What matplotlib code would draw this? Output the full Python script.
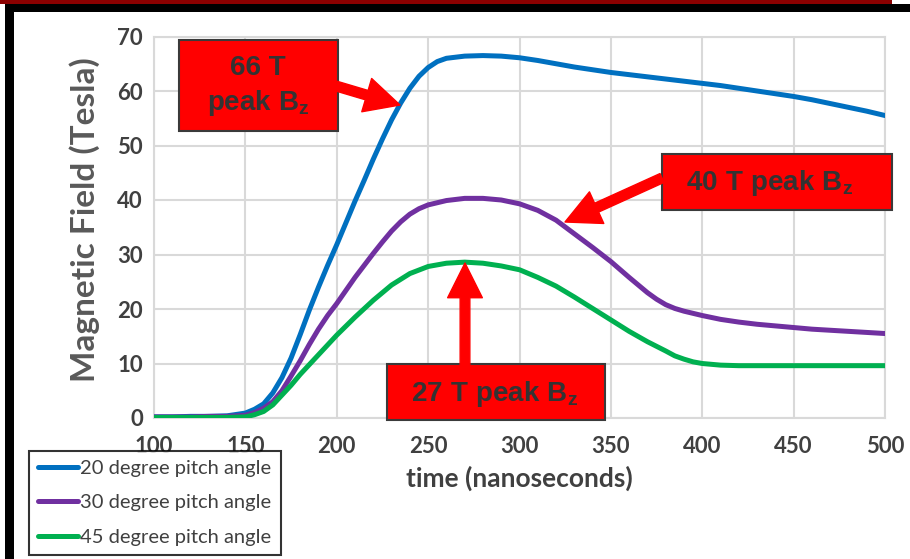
import matplotlib
matplotlib.use("Agg")
import matplotlib.pyplot as plt
from matplotlib.patches import Rectangle, FancyArrowPatch

plt.rcParams['mathtext.fontset'] = 'custom'
plt.rcParams['mathtext.rm'] = 'Liberation Sans:bold'
plt.rcParams['mathtext.it'] = 'Liberation Sans:bold'

# tempi (ns) e campo magnetico (T)
t_20 = [100, 110, 120, 130, 140, 150, 155, 160, 165, 170, 175, 180, 185, 190, 195,
        200, 205, 210, 215, 220, 225, 230, 235, 240, 245, 250, 255, 260, 270, 280,
        290, 300, 310, 320, 330, 340, 350, 360, 370, 380, 390, 400, 410, 420, 430,
        440, 450, 460, 470, 480, 490, 500]
b_20 = [0.2, 0.2, 0.3, 0.3, 0.4, 0.9, 1.6, 2.6, 4.6, 7.4, 11.0, 15.3, 19.8, 24.0, 28.0,
        31.8, 35.8, 39.8, 43.6, 47.5, 51.2, 54.7, 57.8, 60.5, 62.7, 64.3, 65.4, 66.0, 66.4, 66.5,
        66.4, 66.1, 65.6, 65.0, 64.4, 63.9, 63.4, 63.0, 62.6, 62.2, 61.8, 61.4, 61.0, 60.5, 60.0,
        59.5, 59.0, 58.4, 57.7, 57.0, 56.3, 55.5]

t_30 = [100, 110, 120, 130, 140, 150, 155, 160, 165, 170, 175, 180, 185, 190, 195,
        200, 205, 210, 215, 220, 225, 230, 235, 240, 245, 250, 260, 270, 280, 290,
        300, 310, 320, 330, 340, 350, 360, 370, 375, 380, 385, 390, 400, 410, 420,
        430, 440, 450, 460, 470, 480, 490, 500]
b_30 = [0.2, 0.2, 0.2, 0.3, 0.3, 0.5, 1.0, 1.8, 3.0, 5.0, 7.7, 10.5, 13.5, 16.3, 18.8,
        21.0, 23.4, 25.8, 28.0, 30.2, 32.3, 34.3, 36.0, 37.4, 38.4, 39.1, 39.9, 40.3, 40.3, 40.0,
        39.3, 38.1, 36.3, 33.8, 31.3, 28.7, 25.8, 23.0, 21.8, 20.8, 20.1, 19.6, 18.8, 18.1, 17.6,
        17.2, 16.9, 16.6, 16.3, 16.1, 15.9, 15.7, 15.5]

t_45 = [100, 110, 120, 130, 140, 150, 155, 160, 165, 170, 175, 180, 185, 190, 195,
        200, 210, 220, 230, 240, 250, 260, 270, 280, 290, 300, 310, 320, 330, 340,
        350, 360, 370, 380, 385, 390, 395, 400, 410, 420, 440, 460, 480, 500]
b_45 = [0.1, 0.1, 0.1, 0.1, 0.1, 0.2, 0.6, 1.2, 2.4, 4.2, 6.0, 8.0, 9.8, 11.6, 13.4,
        15.2, 18.5, 21.6, 24.4, 26.5, 27.8, 28.4, 28.6, 28.4, 27.9, 27.2, 25.8, 24.2, 22.2, 20.1,
        18.0, 15.9, 14.0, 12.3, 11.4, 10.8, 10.3, 10.0, 9.7, 9.6, 9.6, 9.6, 9.6, 9.6]

serie = [
    ("20 degree pitch angle", t_20, b_20, "#0070C0"),
    ("30 degree pitch angle", t_30, b_30, "#7030A0"),
    ("45 degree pitch angle", t_45, b_45, "#00B050"),
]

fig = plt.figure(figsize=(9.1, 5.59), dpi=100)
ax = fig.add_axes([154 / 910, 1 - 418 / 559, 731 / 910, 381.5 / 559])

for nome, t, b, colore in serie:
    ax.plot(t, b, color=colore, linewidth=3.6, label=nome, solid_capstyle='round', zorder=3)

ax.set_xlim(100, 500)
ax.set_ylim(0, 70)
ax.set_xticks(range(100, 501, 50))
ax.set_yticks(range(0, 71, 10))
ax.grid(True, color="#d9d9d9", linewidth=1.5)
ax.set_axisbelow(True)
for s in ax.spines.values():
    s.set_color("#d9d9d9")
    s.set_linewidth(1.5)
ax.tick_params(length=0, labelsize=16, labelcolor="#404040")
ax.tick_params(axis='x', pad=13)
ax.tick_params(axis='y', pad=8)
for lab in ax.get_xticklabels() + ax.get_yticklabels():
    lab.set_fontfamily("Lato")
    lab.set_fontweight("bold")

ax.set_ylabel("Magnetic Field (Tesla)", fontsize=24, fontweight="bold", family="Lato",
              color="#595959")
ax.yaxis.set_label_coords(-0.074, 0.52)
ax.set_xlabel("time (nanoseconds)", fontsize=19, fontweight="bold", family="Lato",
              color="#404040")
ax.xaxis.set_label_coords(0.5, -0.125)


def pix(x, y):
    # pixel dell'immagine -> coordinate dati
    xd, yd = ax.transData.inverted().transform((x, 559 - y))
    return xd, yd


def riquadro(x0, y0, x1, y1):
    (a, b), (c, d) = pix(x0, y1), pix(x1, y0)
    r = Rectangle((a, b), c - a, d - b, facecolor="#ff0000", edgecolor="#3a3a3a",
                  linewidth=1.5, clip_on=False, zorder=5)
    ax.add_patch(r)


def freccia(x0, y0, x1, y1):
    p = FancyArrowPatch(pix(x0, y0), pix(x1, y1), mutation_scale=1,
                        arrowstyle="simple,head_length=25,head_width=25,tail_width=7",
                        color="#ff0000", shrinkA=0, shrinkB=0, clip_on=False, zorder=6)
    ax.add_patch(p)


testo = dict(fontsize=20, color="#333333", fontweight="bold", family="Liberation Sans",
             ha="center", va="center", zorder=7, clip_on=False)

riquadro(179, 40, 338, 131)
ax.text(*pix(258, 68), "66 T", **testo)
ax.text(*pix(258, 103), r"$\mathrm{peak\ B_z}$", **testo)
freccia(336, 86, 400, 105)

riquadro(662, 154, 892, 210)
ax.text(*pix(770, 183), r"$\mathrm{40\ T\ peak\ B_z}$", **testo)
freccia(662, 178, 565, 222)

riquadro(387, 364, 605, 420)
ax.text(*pix(495, 394), r"$\mathrm{27\ T\ peak\ B_z}$", **testo)
freccia(465, 366, 465, 263)

leg = fig.legend(loc="upper left", bbox_to_anchor=(29 / 910, 1 - 451 / 559),
                 prop={"family": "Lato", "size": 14.5}, frameon=True, fancybox=False,
                 handlelength=2.0, handletextpad=0.1, labelspacing=0.85,
                 borderpad=0.45, borderaxespad=0)
leg.get_frame().set_edgecolor("black")
leg.get_frame().set_linewidth(1.5)
for t in leg.get_texts():
    t.set_color("#404040")

# cornice della slide
fig.add_artist(Rectangle((0, 1 - 4 / 559), 892 / 910, 4 / 559, transform=fig.transFigure,
                         facecolor="#8b0000", edgecolor="none"))
fig.add_artist(Rectangle((5 / 910, 1 - 12 / 559), 905 / 910, 8 / 559, transform=fig.transFigure,
                         facecolor="black", edgecolor="none"))
fig.add_artist(Rectangle((5 / 910, 0), 9 / 910, 1 - 4 / 559, transform=fig.transFigure,
                         facecolor="black", edgecolor="none"))

fig.savefig("out.png", dpi=100)
